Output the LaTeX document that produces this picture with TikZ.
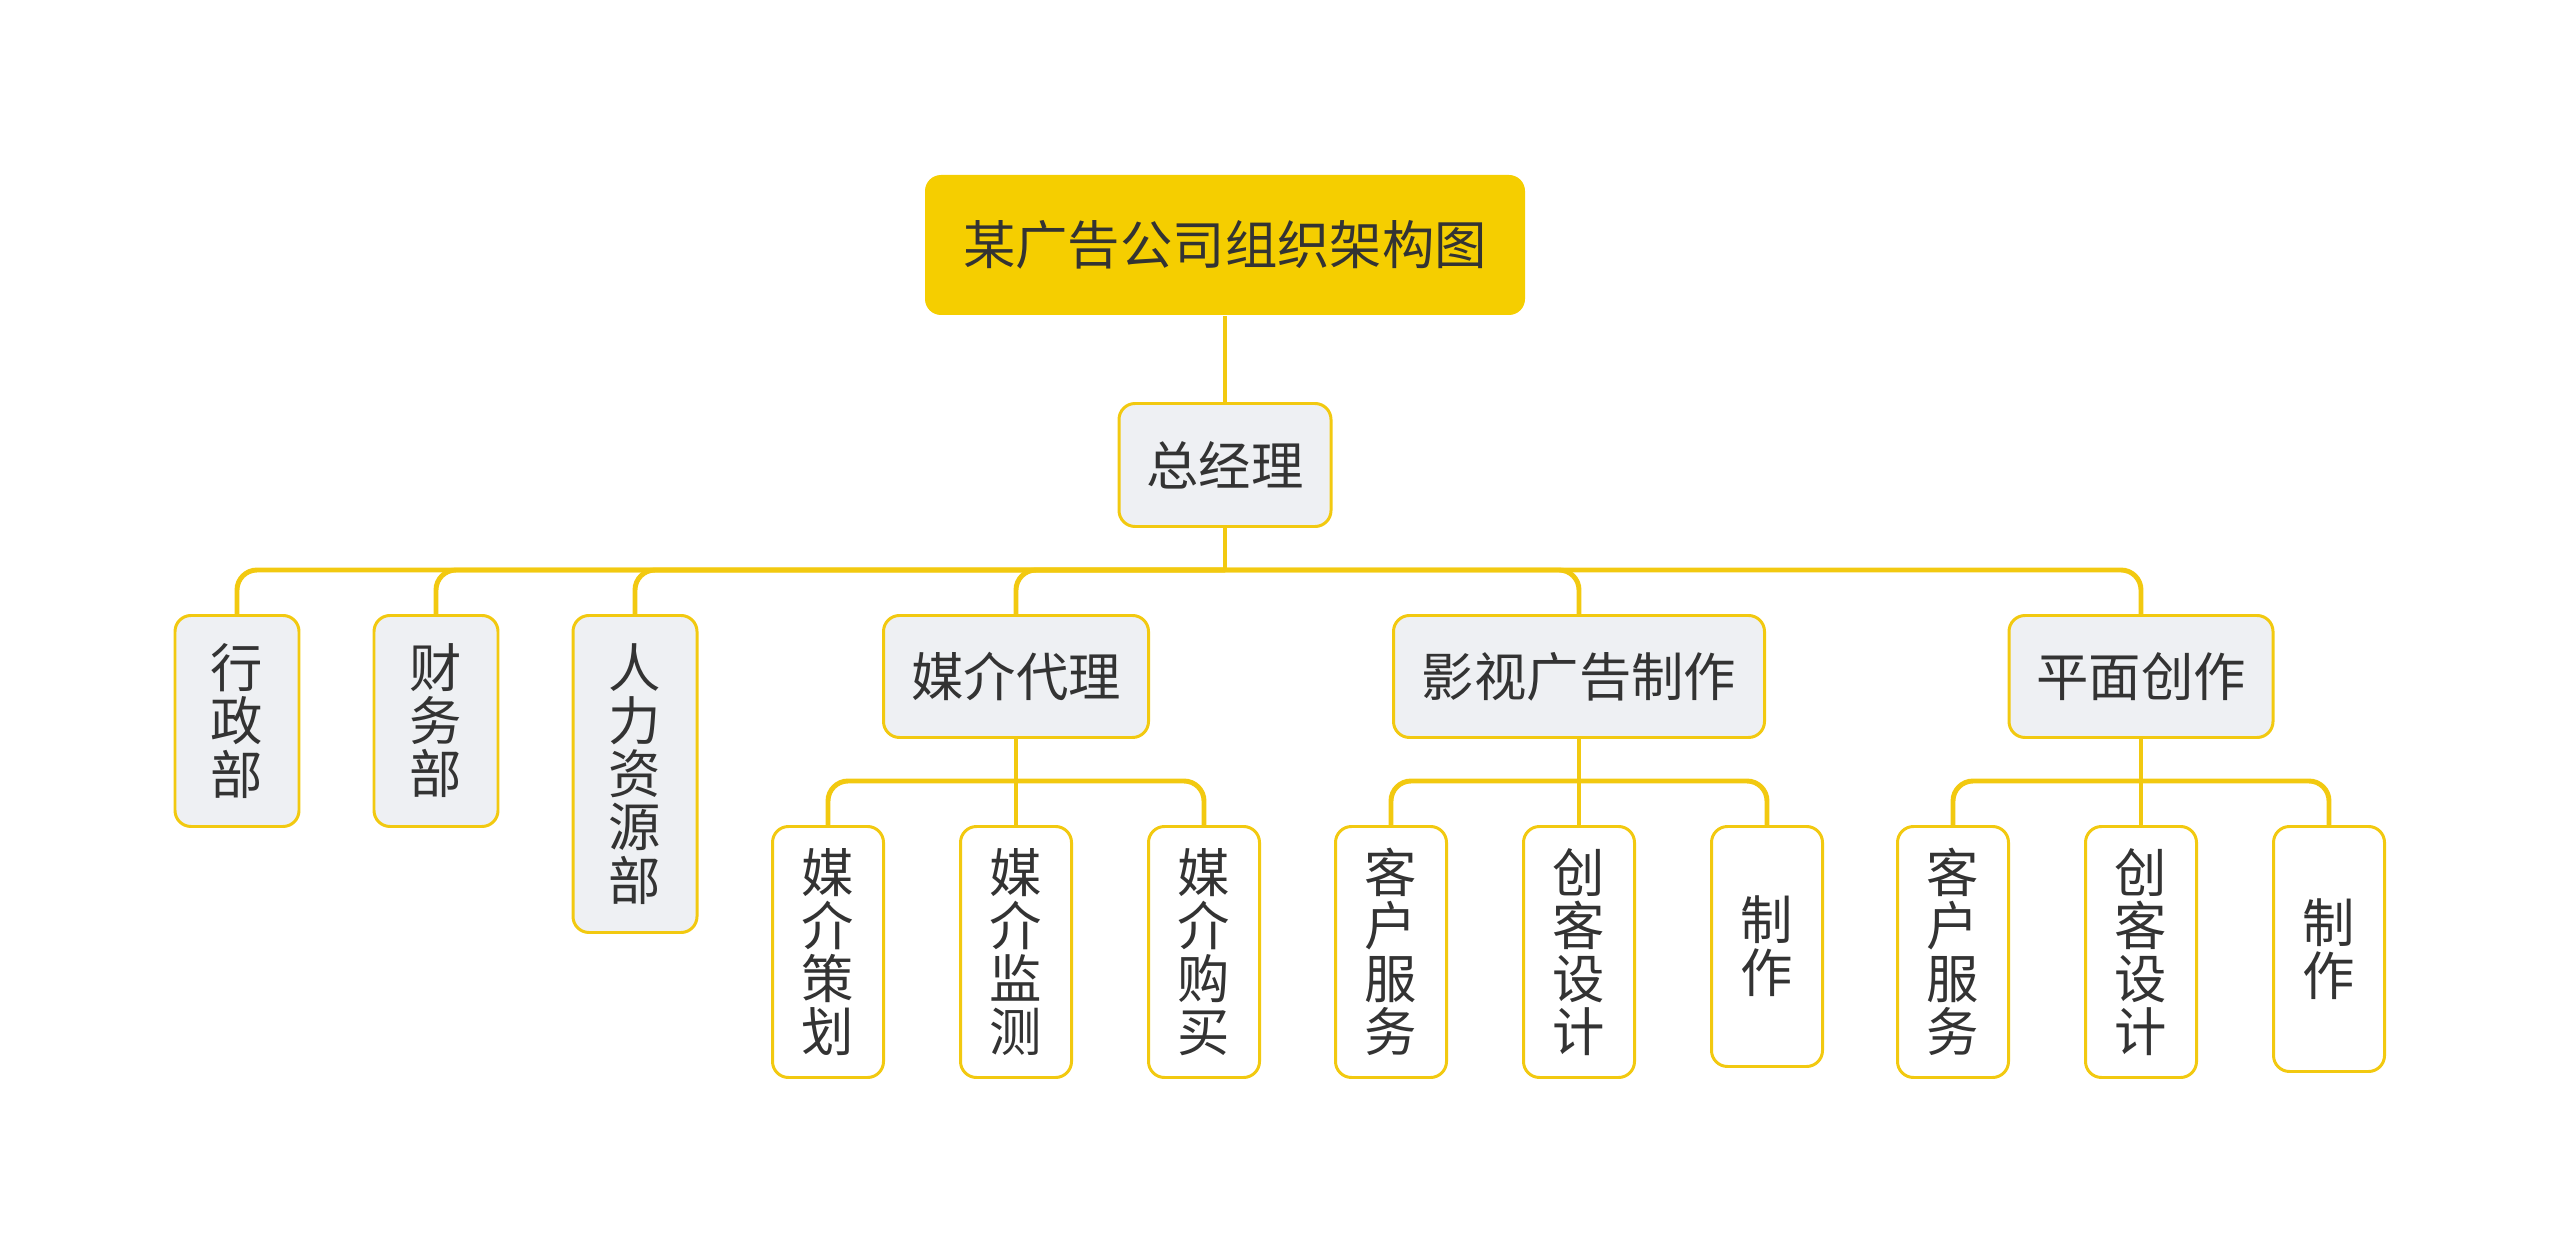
\documentclass[tikz,border=0pt]{standalone}
\usepackage{fontspec}
\newfontfamily\cjk{Noto Sans CJK SC}
\usetikzlibrary{positioning}
\definecolor{linec}{RGB}{242,201,16}
\definecolor{rootc}{RGB}{245,206,0}
\definecolor{boxc}{RGB}{238,240,243}
\definecolor{textc}{RGB}{51,51,51}

\begin{document}
\begin{tikzpicture}[x=1cm,y=1cm,
  box/.style={draw=linec,line width=0.85pt,rounded corners=0.16cm,text=textc,
    font=\cjk\fontsize{14.9pt}{15.1pt}\selectfont,inner sep=0pt,align=center},
  midbox/.style={box,fill=boxc,minimum height=1.22cm,anchor=north},
  colbox/.style={box,fill=boxc,minimum width=1.24cm,anchor=north},
  leafbox/.style={box,fill=white,minimum width=1.11cm,anchor=north},
  link/.style={draw=linec,line width=1.4pt,rounded corners=0.2cm}]
  \useasboundingbox (0,0) rectangle (25.6,-12.53);
  % top
  \node[box,draw=none,fill=rootc,minimum width=6cm,minimum height=1.4cm] (title) at (12.25,-2.45) {某广告公司组织架构图};
  \node[box,fill=boxc,minimum width=2.12cm,minimum height=1.23cm] (gm) at (12.25,-4.65) {总经理};
  % departments
  \node[colbox,minimum height=2.11cm] (admin) at (2.37,-6.14) {行\\政\\部};
  \node[colbox,minimum height=2.11cm] (finance) at (4.36,-6.14) {财\\务\\部};
  \node[colbox,minimum height=3.17cm] (hr) at (6.35,-6.14) {人\\力\\资\\源\\部};
  \node[midbox,minimum width=2.65cm] (media) at (10.16,-6.14) {媒介代理};
  \node[midbox,minimum width=3.71cm] (video) at (15.79,-6.14) {影视广告制作};
  \node[midbox,minimum width=2.64cm] (print) at (21.41,-6.14) {平面创作};
  % teams
  \node[leafbox,minimum height=2.51cm] (mplan) at (8.28,-8.25) {媒\\介\\策\\划};
  \node[leafbox,minimum height=2.51cm] (mwatch) at (10.16,-8.25) {媒\\介\\监\\测};
  \node[leafbox,minimum height=2.51cm] (mbuy) at (12.04,-8.25) {媒\\介\\购\\买};
  \node[leafbox,minimum height=2.51cm] (vserve) at (13.91,-8.25) {客\\户\\服\\务};
  \node[leafbox,minimum height=2.51cm] (vdesign) at (15.79,-8.25) {创\\客\\设\\计};
  \node[leafbox,minimum height=2.40cm] (vmake) at (17.67,-8.25) {制\\作};
  \node[leafbox,minimum height=2.51cm] (pserve) at (19.53,-8.25) {客\\户\\服\\务};
  \node[leafbox,minimum height=2.51cm] (pdesign) at (21.41,-8.25) {创\\客\\设\\计};
  \node[leafbox,minimum height=2.45cm] (pmake) at (23.29,-8.25) {制\\作};
  % links
  \coordinate (hubgm) at (gm.south |- 0,-5.70);
  \coordinate (hubm) at (media.south |- 0,-7.81);
  \coordinate (hubv) at (video.south |- 0,-7.81);
  \coordinate (hubp) at (print.south |- 0,-7.81);
  \draw[link] (title.south) -- (gm.north);
  \draw[link] (gm.south) -- (hubgm);
  \foreach \d in {admin,finance,hr,media,video,print}
    \draw[link] (hubgm) -| (\d.north);
  \draw[link] (media.south) -- (hubm) -- (mwatch.north);
  \foreach \d in {mplan,mbuy}
    \draw[link] (hubm) -| (\d.north);
  \draw[link] (video.south) -- (hubv) -- (vdesign.north);
  \foreach \d in {vserve,vmake}
    \draw[link] (hubv) -| (\d.north);
  \draw[link] (print.south) -- (hubp) -- (pdesign.north);
  \foreach \d in {pserve,pmake}
    \draw[link] (hubp) -| (\d.north);
\end{tikzpicture}
\end{document}
